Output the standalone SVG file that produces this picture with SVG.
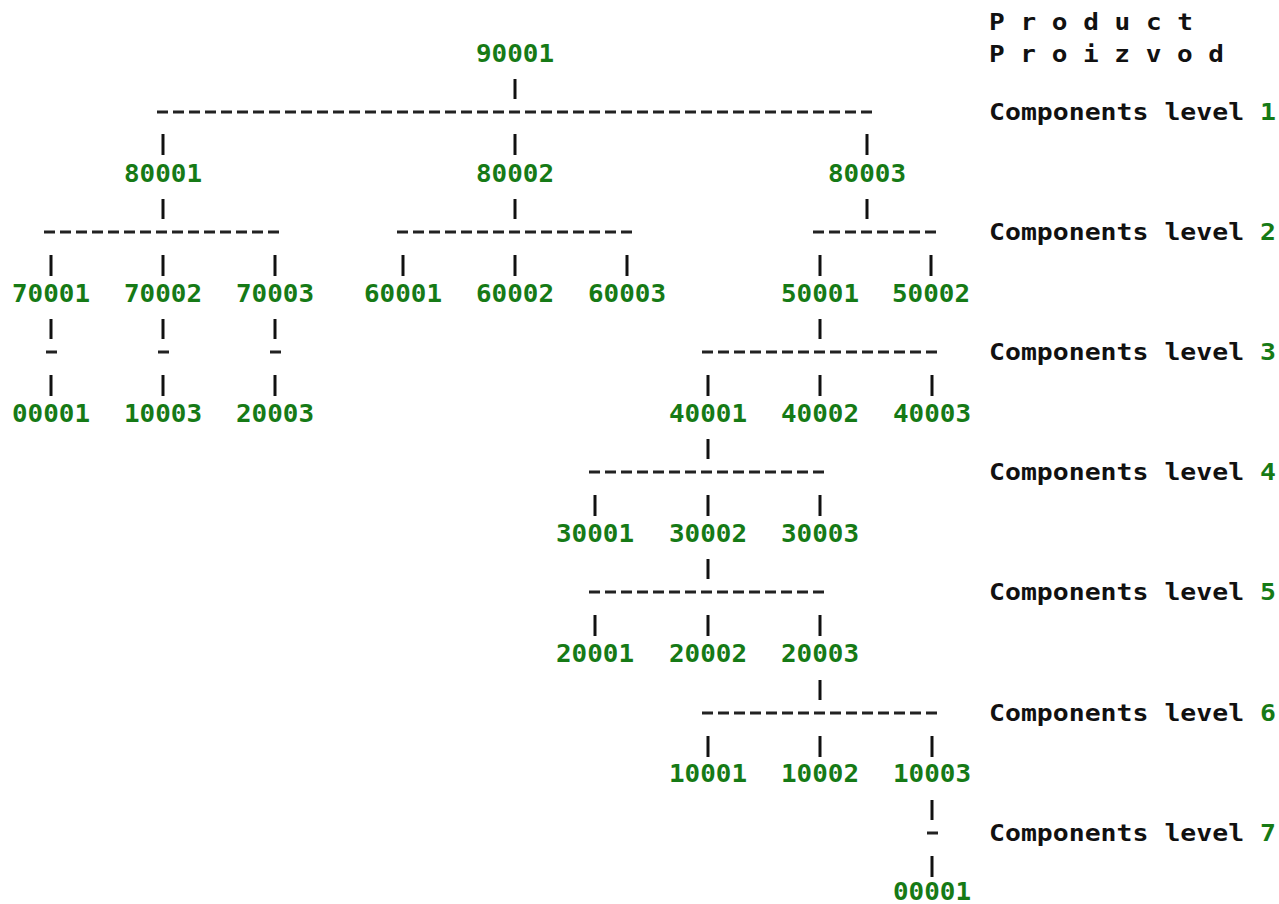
<svg xmlns="http://www.w3.org/2000/svg" width="1279" height="904" viewBox="0 0 1279 904">
  <style>
    .num { font-family: "DejaVu Sans Mono", "Liberation Mono", monospace; font-weight: bold; font-size: 24.5px; fill: #167a16; text-anchor: middle; }
    .lbl { font-family: "DejaVu Sans Mono", "Liberation Mono", monospace; font-weight: bold; font-size: 23.5px; fill: #111; }
    .g { fill: #167a16; }
    .bar { stroke: #111; stroke-width: 3; fill: none; }
    .dash { stroke: #222; stroke-width: 3; fill: none; stroke-dasharray: 11 5; }
  </style>
  <rect width="1279" height="904" fill="#fff"/>

  <!-- legend column -->
  <g id="legend">
    <text class="lbl" x="989" y="30" textLength="204" lengthAdjust="spacingAndGlyphs">P r o d u c t</text>
    <text class="lbl" x="989" y="62" textLength="235" lengthAdjust="spacingAndGlyphs">P r o i z v o d</text>
    <text class="lbl" x="989" y="120" textLength="287" lengthAdjust="spacingAndGlyphs">Components level <tspan class="g">1</tspan></text>
    <text class="lbl" x="989" y="240" textLength="287" lengthAdjust="spacingAndGlyphs">Components level <tspan class="g">2</tspan></text>
    <text class="lbl" x="989" y="360" textLength="287" lengthAdjust="spacingAndGlyphs">Components level <tspan class="g">3</tspan></text>
    <text class="lbl" x="989" y="480" textLength="287" lengthAdjust="spacingAndGlyphs">Components level <tspan class="g">4</tspan></text>
    <text class="lbl" x="989" y="600" textLength="287" lengthAdjust="spacingAndGlyphs">Components level <tspan class="g">5</tspan></text>
    <text class="lbl" x="989" y="721" textLength="287" lengthAdjust="spacingAndGlyphs">Components level <tspan class="g">6</tspan></text>
    <text class="lbl" x="989" y="841" textLength="287" lengthAdjust="spacingAndGlyphs">Components level <tspan class="g">7</tspan></text>
  </g>

  <!-- tree connectors: bars below parents, dashed level lines, bars above children -->
  <g id="connectors">
    <!-- level 1 (y=112) -->
    <line class="bar" x1="515" y1="79" x2="515" y2="99"/>
    <line class="dash" x1="157" y1="112" x2="873" y2="112"/>
    <line class="bar" x1="163" y1="134" x2="163" y2="155"/>
    <line class="bar" x1="515" y1="134" x2="515" y2="155"/>
    <line class="bar" x1="867" y1="134" x2="867" y2="155"/>

    <!-- level 2 (y=232) -->
    <line class="bar" x1="163" y1="199" x2="163" y2="219"/>
    <line class="bar" x1="515" y1="199" x2="515" y2="219"/>
    <line class="bar" x1="867" y1="199" x2="867" y2="219"/>
    <line class="dash" x1="44" y1="232" x2="281" y2="232"/>
    <line class="dash" x1="397" y1="232" x2="633" y2="232"/>
    <line class="dash" x1="813" y1="232" x2="938" y2="232"/>
    <line class="bar" x1="51" y1="255" x2="51" y2="276"/>
    <line class="bar" x1="163" y1="255" x2="163" y2="276"/>
    <line class="bar" x1="275" y1="255" x2="275" y2="276"/>
    <line class="bar" x1="403" y1="255" x2="403" y2="276"/>
    <line class="bar" x1="515" y1="255" x2="515" y2="276"/>
    <line class="bar" x1="627" y1="255" x2="627" y2="276"/>
    <line class="bar" x1="820" y1="255" x2="820" y2="276"/>
    <line class="bar" x1="931" y1="255" x2="931" y2="276"/>

    <!-- level 3 (y=352) -->
    <line class="bar" x1="51" y1="319" x2="51" y2="339"/>
    <line class="bar" x1="163" y1="319" x2="163" y2="339"/>
    <line class="bar" x1="275" y1="319" x2="275" y2="339"/>
    <line class="bar" x1="820" y1="319" x2="820" y2="339"/>
    <line class="dash" x1="46" y1="352" x2="57" y2="352"/>
    <line class="dash" x1="158" y1="352" x2="169" y2="352"/>
    <line class="dash" x1="270" y1="352" x2="281" y2="352"/>
    <line class="dash" x1="702" y1="352" x2="938" y2="352"/>
    <line class="bar" x1="51" y1="375" x2="51" y2="396"/>
    <line class="bar" x1="163" y1="375" x2="163" y2="396"/>
    <line class="bar" x1="275" y1="375" x2="275" y2="396"/>
    <line class="bar" x1="708" y1="375" x2="708" y2="396"/>
    <line class="bar" x1="820" y1="375" x2="820" y2="396"/>
    <line class="bar" x1="932" y1="375" x2="932" y2="396"/>

    <!-- level 4 (y=472) -->
    <line class="bar" x1="708" y1="439" x2="708" y2="459"/>
    <line class="dash" x1="589" y1="472" x2="826" y2="472"/>
    <line class="bar" x1="595" y1="495" x2="595" y2="516"/>
    <line class="bar" x1="708" y1="495" x2="708" y2="516"/>
    <line class="bar" x1="820" y1="495" x2="820" y2="516"/>

    <!-- level 5 (y=592) -->
    <line class="bar" x1="708" y1="559" x2="708" y2="579"/>
    <line class="dash" x1="589" y1="592" x2="826" y2="592"/>
    <line class="bar" x1="595" y1="615" x2="595" y2="636"/>
    <line class="bar" x1="708" y1="615" x2="708" y2="636"/>
    <line class="bar" x1="820" y1="615" x2="820" y2="636"/>

    <!-- level 6 (y=713) -->
    <line class="bar" x1="820" y1="680" x2="820" y2="700"/>
    <line class="dash" x1="702" y1="713" x2="938" y2="713"/>
    <line class="bar" x1="708" y1="736" x2="708" y2="757"/>
    <line class="bar" x1="820" y1="736" x2="820" y2="757"/>
    <line class="bar" x1="932" y1="736" x2="932" y2="757"/>

    <!-- level 7 (y=833) -->
    <line class="bar" x1="932" y1="800" x2="932" y2="820"/>
    <line class="dash" x1="927" y1="833" x2="938" y2="833"/>
    <line class="bar" x1="932" y1="856" x2="932" y2="877"/>
  </g>

  <!-- item numbers -->
  <g id="n-90001"><text class="num" x="515" y="62" textLength="78" lengthAdjust="spacingAndGlyphs">90001</text></g>

  <g id="n-80001"><text class="num" x="163" y="182" textLength="78" lengthAdjust="spacingAndGlyphs">80001</text></g>
  <g id="n-80002"><text class="num" x="515" y="182" textLength="78" lengthAdjust="spacingAndGlyphs">80002</text></g>
  <g id="n-80003"><text class="num" x="867" y="182" textLength="78" lengthAdjust="spacingAndGlyphs">80003</text></g>

  <g id="n-70001"><text class="num" x="51" y="302" textLength="78" lengthAdjust="spacingAndGlyphs">70001</text></g>
  <g id="n-70002"><text class="num" x="163" y="302" textLength="78" lengthAdjust="spacingAndGlyphs">70002</text></g>
  <g id="n-70003"><text class="num" x="275" y="302" textLength="78" lengthAdjust="spacingAndGlyphs">70003</text></g>
  <g id="n-60001"><text class="num" x="403" y="302" textLength="78" lengthAdjust="spacingAndGlyphs">60001</text></g>
  <g id="n-60002"><text class="num" x="515" y="302" textLength="78" lengthAdjust="spacingAndGlyphs">60002</text></g>
  <g id="n-60003"><text class="num" x="627" y="302" textLength="78" lengthAdjust="spacingAndGlyphs">60003</text></g>
  <g id="n-50001"><text class="num" x="820" y="302" textLength="78" lengthAdjust="spacingAndGlyphs">50001</text></g>
  <g id="n-50002"><text class="num" x="931" y="302" textLength="78" lengthAdjust="spacingAndGlyphs">50002</text></g>

  <g id="n-00001-a"><text class="num" x="51" y="422" textLength="78" lengthAdjust="spacingAndGlyphs">00001</text></g>
  <g id="n-10003-a"><text class="num" x="163" y="422" textLength="78" lengthAdjust="spacingAndGlyphs">10003</text></g>
  <g id="n-20003-a"><text class="num" x="275" y="422" textLength="78" lengthAdjust="spacingAndGlyphs">20003</text></g>
  <g id="n-40001"><text class="num" x="708" y="422" textLength="78" lengthAdjust="spacingAndGlyphs">40001</text></g>
  <g id="n-40002"><text class="num" x="820" y="422" textLength="78" lengthAdjust="spacingAndGlyphs">40002</text></g>
  <g id="n-40003"><text class="num" x="932" y="422" textLength="78" lengthAdjust="spacingAndGlyphs">40003</text></g>

  <g id="n-30001"><text class="num" x="595" y="542" textLength="78" lengthAdjust="spacingAndGlyphs">30001</text></g>
  <g id="n-30002"><text class="num" x="708" y="542" textLength="78" lengthAdjust="spacingAndGlyphs">30002</text></g>
  <g id="n-30003"><text class="num" x="820" y="542" textLength="78" lengthAdjust="spacingAndGlyphs">30003</text></g>

  <g id="n-20001"><text class="num" x="595" y="662" textLength="78" lengthAdjust="spacingAndGlyphs">20001</text></g>
  <g id="n-20002"><text class="num" x="708" y="662" textLength="78" lengthAdjust="spacingAndGlyphs">20002</text></g>
  <g id="n-20003-b"><text class="num" x="820" y="662" textLength="78" lengthAdjust="spacingAndGlyphs">20003</text></g>

  <g id="n-10001"><text class="num" x="708" y="782" textLength="78" lengthAdjust="spacingAndGlyphs">10001</text></g>
  <g id="n-10002"><text class="num" x="820" y="782" textLength="78" lengthAdjust="spacingAndGlyphs">10002</text></g>
  <g id="n-10003-b"><text class="num" x="932" y="782" textLength="78" lengthAdjust="spacingAndGlyphs">10003</text></g>

  <g id="n-00001-b"><text class="num" x="932" y="900" textLength="78" lengthAdjust="spacingAndGlyphs">00001</text></g>
</svg>
